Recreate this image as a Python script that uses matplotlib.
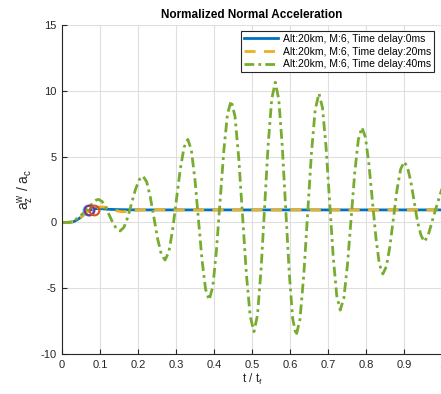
import matplotlib
matplotlib.use("Agg")
import matplotlib.pyplot as plt

plt.rcParams['font.family'] = ['Liberation Sans', 'DejaVu Sans']
plt.rcParams['mathtext.fontset'] = 'custom'
plt.rcParams['mathtext.rm'] = 'Liberation Sans'
plt.rcParams['mathtext.it'] = 'Liberation Sans'
plt.rcParams['axes.unicode_minus'] = False

# time delay 0 ms
t0 = [0, 0.02, 0.03, 0.04, 0.05, 0.06, 0.07, 0.08, 0.09, 0.10, 0.12, 0.15, 0.20, 0.30, 1.0]
a0 = [0, 0, 0.05, 0.2, 0.4, 0.65, 0.88, 1.0, 1.05, 1.05, 1.0, 0.97, 0.95, 0.95, 0.95]

# time delay 20 ms
t20 = [0, 0.02, 0.03, 0.04, 0.05, 0.06, 0.07, 0.08, 0.09, 0.10, 0.11, 0.12, 0.13, 0.14,
       0.15, 0.16, 0.17, 0.18, 0.20, 0.25, 0.30, 1.0]
a20 = [0, 0, 0.05, 0.2, 0.4, 0.65, 0.88, 1.0, 1.1, 1.17, 1.17, 1.12, 1.02, 0.92,
       0.84, 0.81, 0.83, 0.88, 0.94, 0.97, 0.95, 0.95]

# time delay 40 ms
t40 = [0, 0.01, 0.02, 0.03, 0.04, 0.05, 0.06, 0.07, 0.08, 0.09, 0.096,
       0.1055, 0.115, 0.1245, 0.134, 0.1435, 0.153,
       0.163, 0.173, 0.183, 0.193, 0.203, 0.213,
       0.2227, 0.2323, 0.242, 0.2517, 0.2613, 0.271,
       0.281, 0.291, 0.301, 0.311, 0.321, 0.331,
       0.3403, 0.3497, 0.359, 0.3683, 0.3777, 0.387,
       0.3967, 0.4063, 0.416, 0.4257, 0.4353, 0.445,
       0.455, 0.465, 0.475, 0.485, 0.495, 0.505,
       0.5143, 0.5237, 0.533, 0.5423, 0.5517, 0.561,
       0.5702, 0.5793, 0.5885, 0.5977, 0.6068, 0.616,
       0.626, 0.636, 0.646, 0.656, 0.666, 0.676,
       0.6853, 0.6947, 0.704, 0.7133, 0.7227, 0.732,
       0.7415, 0.751, 0.7605, 0.77, 0.7795, 0.789,
       0.7982, 0.8073, 0.8165, 0.8257, 0.8348, 0.844,
       0.8533, 0.8627, 0.872, 0.8813, 0.8907, 0.90,
       0.9088, 0.9177, 0.9265, 0.9353, 0.9442, 0.953,
       0.963, 0.97, 0.977, 0.985, 0.993, 1.0]
a40 = [0, 0, 0.02, 0.1, 0.3, 0.55, 0.8, 1.1, 1.45, 1.7, 1.75,
       1.59, 1.15, 0.55, -0.05, -0.49, -0.65,
       -0.37, 0.39, 1.44, 2.48, 3.24, 3.52,
       3.09, 1.93, 0.33, -1.27, -2.43, -2.86,
       -2.25, -0.57, 1.73, 4.02, 5.70, 6.31,
       5.49, 3.26, 0.21, -2.85, -5.08, -5.9,
       -4.89, -2.11, 1.68, 5.46, 8.24, 9.25,
       8.07, 4.86, 0.48, -3.91, -7.12, -8.3,
       -7.03, -3.56, 1.18, 5.91, 9.38, 10.65,
       9.36, 5.84, 1.03, -3.79, -7.31, -8.6,
       -7.37, -4.0, 0.6, 5.2, 8.57, 9.8,
       8.70, 5.69, 1.57, -2.55, -5.56, -6.66,
       -5.73, -3.19, 0.28, 3.75, 6.29, 7.22,
       6.47, 4.44, 1.65, -1.14, -3.17, -3.92,
       -3.35, -1.79, 0.35, 2.48, 4.04, 4.61,
       4.20, 3.09, 1.57, 0.05, -0.96, -1.47,
       -1.0, -0.3, 0.43, 1.2, 1.95, 2.6]

labels = ["Alt:20km, M:6, Time delay:0ms",
          "Alt:20km, M:6, Time delay:20ms",
          "Alt:20km, M:6, Time delay:40ms"]

# circle markers near the start
mk_t = [0.069, 0.072, 0.085]
mk_a = [0.95, 0.95, 0.95]
mk_c = ['#4DBEEE', '#7E2F8E', '#D95319']

fig = plt.figure(figsize=(4.41, 3.94), dpi=100)
ax = fig.add_axes([0.1406, 0.1015, 0.862, 0.835])

ax.plot(t0, a0, color='#0072BD', lw=2, label=labels[0])
ax.plot(t20, a20, color='#EDB120', lw=2, ls=(0, (4, 3)), label=labels[1])
ax.plot(t40, a40, color='#77AC30', lw=2, ls=(0, (3.5, 1.5, 1, 1.5)), label=labels[2])
for x, y, c in zip(mk_t, mk_a, mk_c):
    ax.plot(x, y, 'o', mfc='none', mec=c, ms=7, mew=1.5)

ax.set_xlim(0, 1)
ax.set_ylim(-10, 15)
ax.set_xticks([0, 0.1, 0.2, 0.3, 0.4, 0.5, 0.6, 0.7, 0.8, 0.9, 1])
ax.set_xticklabels(['0', '0.1', '0.2', '0.3', '0.4', '0.5', '0.6', '0.7', '0.8', '0.9', '1'])
ax.set_yticks([-10, -5, 0, 5, 10, 15])
ax.grid(True, color='#DFDFDF', lw=0.8)
ax.set_axisbelow(True)
for s in ['top', 'right']:
    ax.spines[s].set_visible(False)
for s in ['left', 'bottom']:
    ax.spines[s].set_color('#262626')
    ax.spines[s].set_linewidth(0.8)
ax.tick_params(direction='in', length=3.5, width=0.8, colors='#262626',
               labelsize=8, pad=4)

ax.set_title('Normalized Normal Acceleration', fontsize=8.5, fontweight='bold', pad=5)
ax.set_xlabel(r't / t$_\mathrm{f}$', fontsize=8.5, color='#262626', labelpad=2)
ax.set_ylabel(r'a$_\mathrm{z}^\mathrm{w}$ / a$_\mathrm{c}$', fontsize=10, color='#262626', labelpad=3)

leg = ax.legend(loc='upper right', bbox_to_anchor=(0.993, 0.998), fontsize=7.5,
                fancybox=False, edgecolor='#262626', framealpha=1,
                handlelength=3.2, borderpad=0.3, labelspacing=0.25, handletextpad=0.5)
leg.get_frame().set_linewidth(0.8)

fig.savefig('out.png', dpi=100)
